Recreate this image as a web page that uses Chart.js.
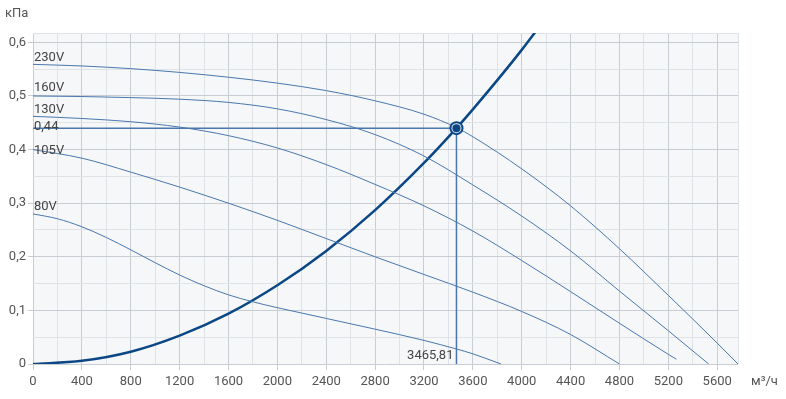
<!DOCTYPE html>
<html>
<head>
<meta charset="utf-8">
<script src="https://cdn.jsdelivr.net/npm/chart.js@4/dist/chart.umd.min.js"></script>
<style>
  html, body { margin: 0; padding: 0; background: #fff; }
  #wrap { width: 786px; height: 399px; position: relative; }
</style>
</head>
<body>
<div id="wrap"><canvas id="fanChart"></canvas></div>
<script>
// fan curves (flow m3/h -> pressure kPa)
const flow230 = [0, 400, 800, 1200, 1600, 2000, 2400, 2800, 3200, 3466, 3600, 4000, 4400, 4800, 5200, 5600, 5770];
const pres230 = [0.559, 0.556, 0.551, 0.544, 0.535, 0.524, 0.510, 0.491, 0.466, 0.441, 0.424, 0.364, 0.295, 0.215, 0.128, 0.039, 0];

const flow160 = [0, 400, 800, 1200, 1600, 2000, 2400, 2800, 3200, 3600, 4000, 4400, 4800, 5200, 5530];
const pres160 = [0.500, 0.499, 0.497, 0.494, 0.488, 0.476, 0.456, 0.428, 0.388, 0.334, 0.276, 0.211, 0.136, 0.062, 0];

const flow130 = [0, 400, 800, 1200, 1600, 2000, 2400, 2800, 3200, 3600, 4000, 4400, 4800, 5200, 5265];
const pres130 = [0.462, 0.458, 0.452, 0.442, 0.426, 0.403, 0.372, 0.335, 0.295, 0.248, 0.193, 0.135, 0.076, 0.018, 0.009];

const flow105 = [0, 400, 800, 1200, 1600, 2000, 2400, 2800, 3200, 3600, 4000, 4400, 4800];
const pres105 = [0.400, 0.384, 0.358, 0.330, 0.300, 0.268, 0.234, 0.200, 0.167, 0.134, 0.098, 0.055, 0];

const flow80 = [0, 200, 400, 600, 800, 1000, 1200, 1400, 1600, 1800, 2000, 2200, 2400, 2800, 3200, 3466, 3600, 3830];
const pres80 = [0.280, 0.271, 0.256, 0.236, 0.213, 0.189, 0.166, 0.146, 0.129, 0.116, 0.105, 0.095, 0.085, 0.065, 0.044, 0.028, 0.019, 0];

// network (system) curve
const flowNet = [0, 400, 800, 1200, 1600, 2000, 2400, 2800, 3200, 3465.81, 3600, 4000, 4400];
const presNet = [0, 0.006, 0.023, 0.053, 0.094, 0.147, 0.211, 0.287, 0.375, 0.44, 0.475, 0.586, 0.709];

// working point
const workFlow = 3465.81;
const workPres = 0.44;

const curveLabels = ['230V', '160V', '130V', '105V', '80V'];
const curveStarts = [pres230[0], pres160[0], pres130[0], pres105[0], pres80[0]];
const labelShift = [-7, -8, -7, 1, -7];

// axis ranges and tick steps
const flowMax = 5770;
const presMax = 0.6175;
const flowStep = 200;
const presStep = 0.05;

const majorGrid = '#c8cdd4';
const minorGrid = '#dfe2e6';
const curveColor = '#4a77ad';
const netColor = '#0c4785';

function pts(xs, ys) {
    return xs.map((x, i) => ({ x: x, y: ys[i] }));
}
function isMajorY(v) { return Math.abs(v * 10 - Math.round(v * 10)) < 1e-6; }
function isMajorX(v) { return v % 400 === 0; }
function comma(v) { return String(v).replace('.', ','); }

// plot background, marker and texts
const extras = {
    id: 'extras',
    beforeDraw(chart) {
        const a = chart.chartArea;
        const c = chart.ctx;
        c.save();
        c.fillStyle = '#f5f7f9';
        c.fillRect(a.left, a.top, a.right - a.left, a.bottom - a.top);
        c.restore();
    },
    afterDatasetsDraw(chart) {
        const c = chart.ctx;
        const xs = chart.scales.x, ys = chart.scales.y;
        const px = xs.getPixelForValue(workFlow), py = ys.getPixelForValue(workPres);
        c.save();
        // working point marker
        c.fillStyle = netColor;
        c.beginPath(); c.arc(px, py, 7, 0, Math.PI * 2); c.fill();
        c.fillStyle = '#dfe7f0';
        c.beginPath(); c.arc(px, py, 5, 0, Math.PI * 2); c.fill();
        c.fillStyle = netColor;
        c.beginPath(); c.arc(px, py, 4, 0, Math.PI * 2); c.fill();

        c.font = '13px Roboto';
        c.fillStyle = '#444';
        c.textBaseline = 'middle';
        c.textAlign = 'left';
        curveLabels.forEach((t, i) => {
            c.fillText(t, xs.left + 1, ys.getPixelForValue(curveStarts[i]) + labelShift[i]);
        });
        c.fillText(comma(workPres), xs.left + 1, py - 1);
        c.textAlign = 'right';
        c.fillText(comma(workFlow), px - 3, ys.bottom - 8);
        c.fillStyle = '#555';
        c.textAlign = 'left';
        c.fillText('кПа', 5, 14);
        c.fillText('м³/ч', 751, 382);
        c.restore();
    }
};

const ctx = document.getElementById('fanChart').getContext('2d');
const thin = { borderColor: curveColor, borderWidth: 1, pointRadius: 0, cubicInterpolationMode: 'monotone', fill: false };

const fanChart = new Chart(ctx, {
    type: 'line',
    data: {
        datasets: [
            { ...thin, data: pts(flow230, pres230) },
            { ...thin, data: pts(flow160, pres160) },
            { ...thin, data: pts(flow130, pres130) },
            { ...thin, data: pts(flow105, pres105) },
            { ...thin, data: pts(flow80, pres80) },
            { data: pts(flowNet, presNet), borderColor: netColor, borderWidth: 2.5, pointRadius: 0, cubicInterpolationMode: 'monotone' },
            { data: [{ x: 0, y: workPres }, { x: workFlow, y: workPres }, { x: workFlow, y: 0 }], borderColor: curveColor, borderWidth: 1.5, pointRadius: 0, tension: 0 }
        ]
    },
    options: {
        responsive: true,
        maintainAspectRatio: false,
        animation: false,
        layout: { padding: { top: 33, right: 48, left: 0, bottom: 0 } },
        plugins: {
            legend: { display: false },
            tooltip: { enabled: false }
        },
        scales: {
            x: {
                type: 'linear',
                min: 0,
                max: flowMax,
                afterFit: (s) => { s.height = 35; },
                afterBuildTicks: (s) => {
                    const t = [];
                    for (let v = 0; v < flowMax; v += flowStep) t.push({ value: v });
                    t.push({ value: flowMax });
                    s.ticks = t;
                },
                border: { display: false },
                grid: {
                    color: (c) => c.tick && isMajorX(c.tick.value) ? majorGrid : minorGrid,
                    tickColor: (c) => c.tick && isMajorX(c.tick.value) ? majorGrid : 'rgba(0,0,0,0)',
                    tickLength: 6
                },
                ticks: {
                    autoSkip: false,
                    maxRotation: 0,
                    padding: 4,
                    color: '#555',
                    font: { family: 'Roboto', size: 13 },
                    callback: (v) => isMajorX(v) ? String(v) : ''
                }
            },
            y: {
                min: 0,
                max: presMax,
                afterFit: (s) => { s.width = 33; },
                afterBuildTicks: (s) => {
                    const t = [];
                    for (let i = 0; i * presStep < presMax - 1e-9; i++) t.push({ value: Math.round(i * presStep * 100) / 100 });
                    t.push({ value: presMax });
                    s.ticks = t;
                },
                border: { display: false },
                grid: {
                    color: (c) => c.tick && isMajorY(c.tick.value) ? majorGrid : minorGrid,
                    tickColor: (c) => c.tick && isMajorY(c.tick.value) ? majorGrid : 'rgba(0,0,0,0)',
                    tickLength: 5
                },
                ticks: {
                    autoSkip: false,
                    padding: 2,
                    color: '#555',
                    font: { family: 'Roboto', size: 13 },
                    callback: (v) => isMajorY(v) ? comma(Math.round(v * 10) / 10) : ''
                }
            }
        }
    },
    plugins: [extras]
});
</script>
</body>
</html>
